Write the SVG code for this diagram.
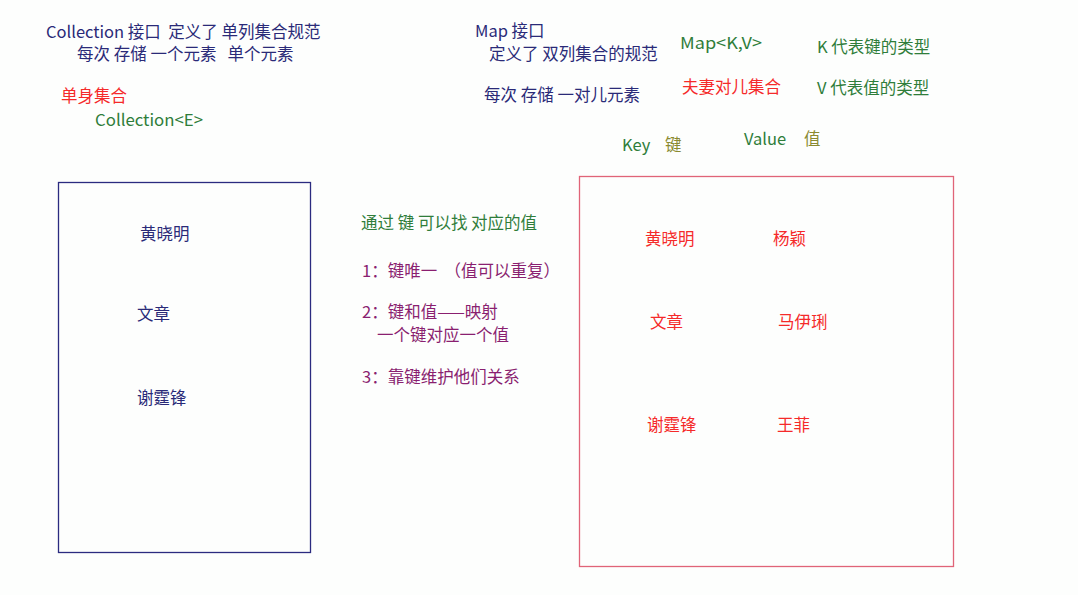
<svg xmlns="http://www.w3.org/2000/svg" width="1078" height="595" viewBox="0 0 1078 595">
<style>
text{font-family:"Noto Sans CJK SC","Noto Sans",sans-serif;font-size:16.5px;white-space:pre}
.n{fill:#2a2a78}
.r{fill:#f52a2a}
.g{fill:#2f7d3a}
.p{fill:#8a1f70}
.o{fill:#8a8a30}
</style>
<rect width="1078" height="595" fill="#fdfefd"/>
<g id="collection-header">
<text class="n" x="46" y="38" xml:space="preserve">Collection 接口  定义了 单列集合规范</text>
<text class="n" x="77" y="60" xml:space="preserve">每次 存储 一个元素   单个元素</text>
<text class="r" x="61" y="102">单身集合</text>
<text class="g" x="95" y="126" textLength="108" lengthAdjust="spacingAndGlyphs">Collection&lt;E&gt;</text>
</g>
<g id="map-header">
<text class="n" x="475" y="37">Map 接口</text>
<text class="n" x="489" y="60">定义了 双列集合的规范</text>
<text class="n" x="484" y="101">每次 存储 一对儿元素</text>
<text class="g" x="680" y="49" textLength="82" lengthAdjust="spacingAndGlyphs">Map&lt;K,V&gt;</text>
<text class="r" x="682" y="93">夫妻对儿集合</text>
<text class="g" x="817" y="53">K 代表键的类型</text>
<text class="g" x="817" y="94">V 代表值的类型</text>
<text class="g" x="622" y="151">Key</text>
<text class="o" x="665" y="151">键</text>
<text class="g" x="744" y="145">Value</text>
<text class="o" x="804" y="145">值</text>
</g>
<g id="collection-box">
<rect x="58.5" y="182.5" width="252" height="370" fill="none" stroke="#2b2b80" stroke-width="1.3"/>
<text class="n" x="140" y="240">黄晓明</text>
<text class="n" x="137" y="320">文章</text>
<text class="n" x="137" y="404">谢霆锋</text>
</g>
<g id="notes">
<text class="g" x="361" y="229">通过 键 可以找 对应的值</text>
<text class="p" x="362" y="277" xml:space="preserve">1：键唯一  （值可以重复）</text>
<text class="p" x="362" y="318">2：键和值——映射</text>
<text class="p" x="377" y="341">一个键对应一个值</text>
<text class="p" x="362" y="383">3：靠键维护他们关系</text>
</g>
<g id="map-box">
<rect x="579.5" y="176.5" width="374" height="390" fill="none" stroke="#e06478" stroke-width="1.3"/>
<text class="r" x="645" y="245">黄晓明</text>
<text class="r" x="773" y="245">杨颖</text>
<text class="r" x="650" y="328">文章</text>
<text class="r" x="778" y="328">马伊琍</text>
<text class="r" x="647" y="431">谢霆锋</text>
<text class="r" x="777" y="431">王菲</text>
</g>
<g id="connectors"></g>
</svg>
